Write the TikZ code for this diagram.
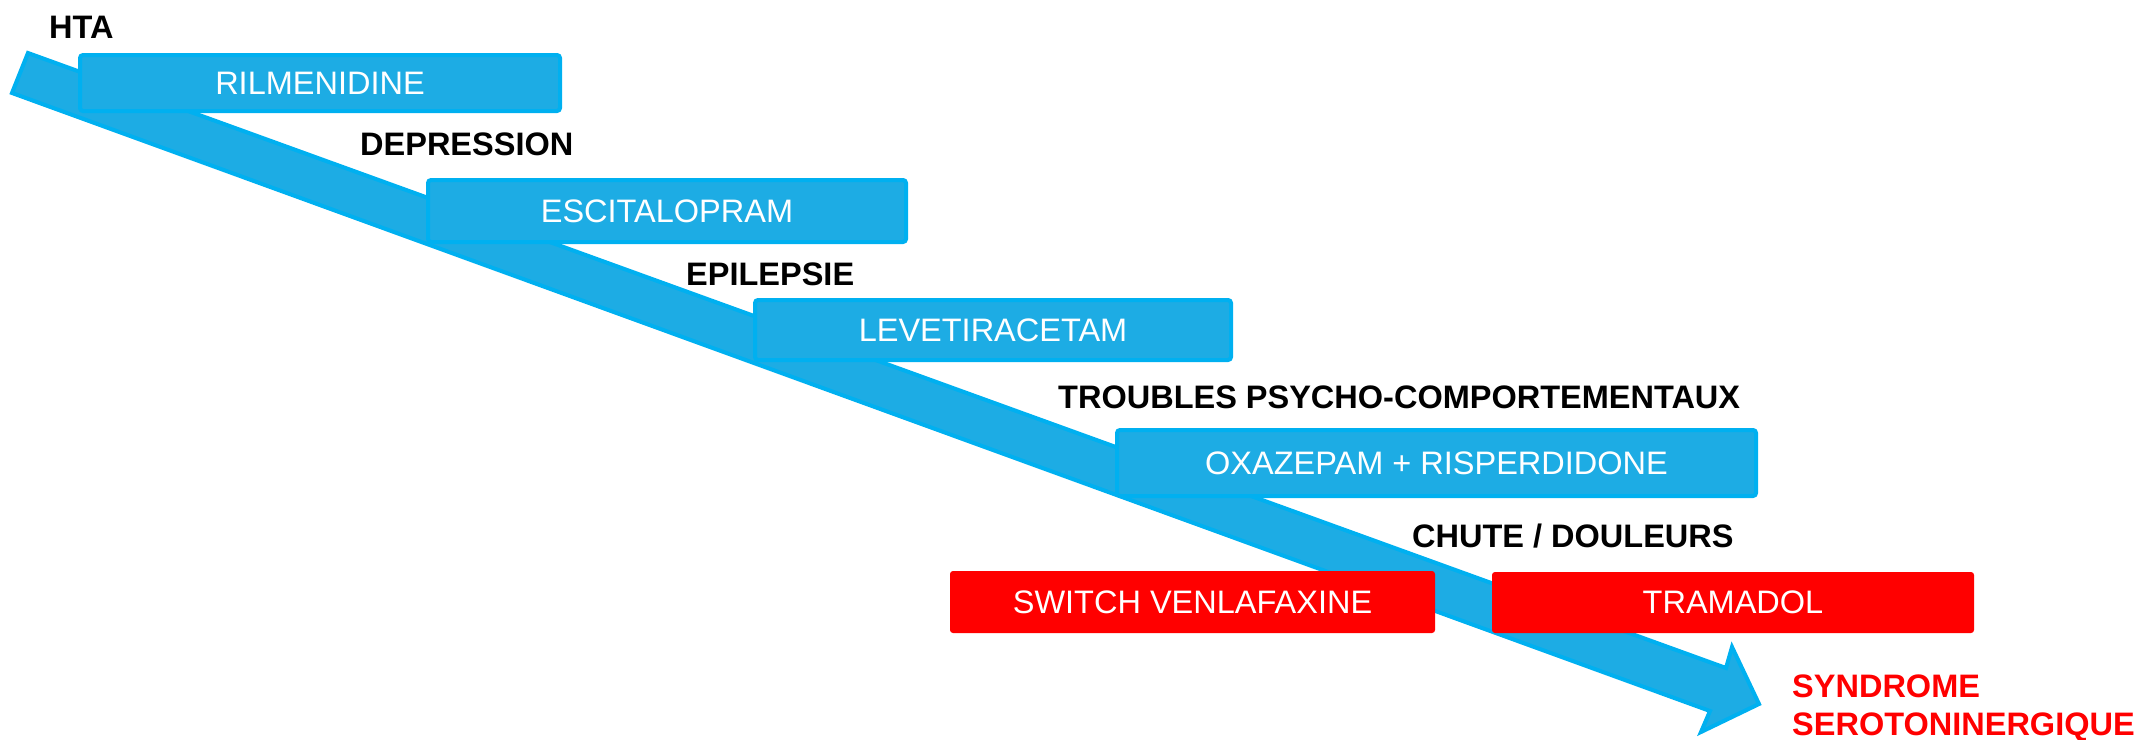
\documentclass[tikz,border=0pt]{standalone}
\usepackage{fontspec}
\setmainfont{Liberation Sans}
\definecolor{arrowfill}{RGB}{29,172,228}
\definecolor{arrowedge}{RGB}{0,176,240}
\definecolor{alertred}{RGB}{255,0,0}
\begin{document}
\begin{tikzpicture}[x=1pt,y=-1pt,
  every node/.style={font=\fontsize{32.5}{37}\selectfont},
  bluebox/.style={fill=arrowfill, draw=arrowedge, line width=4pt, rounded corners=3pt, text=white, inner sep=0pt},
  redbox/.style={fill=alertred, rounded corners=3pt, text=white, inner sep=0pt},
  stage/.style={font=\fontsize{32.5}{37}\selectfont\bfseries, anchor=base west, inner sep=0pt},
  outcome/.style={stage, text=alertred},
  bigarrow/.style={fill=arrowfill, draw=arrowedge, line width=4pt, line join=miter}
]
\useasboundingbox (0,0) rectangle (2139,739);

% big diagonal arrow
\coordinate (t1) at (28,53);
\coordinate (t2) at (12,93);
\coordinate (s1) at (1726,668);
\coordinate (s2) at (1710,711);
\coordinate (b1) at (1732,647);
\coordinate (b2) at (1701,732);
\coordinate (tip) at (1759,704);
\draw[bigarrow] (t1) -- (s1) -- (b1) -- (tip) -- (b2) -- (s2) -- (t2) -- cycle;

% blue treatment boxes
\node[bluebox, minimum width=480pt, minimum height=56pt] (ril) at (320,83) {RILMENIDINE};
\node[bluebox, minimum width=478pt, minimum height=62pt] (esc) at (667,211) {ESCITALOPRAM};
\node[bluebox, minimum width=476pt, minimum height=60pt] (lev) at (993,330) {LEVETIRACETAM};
\node[bluebox, minimum width=639pt, minimum height=66pt] (oxa) at (1436.5,463) {OXAZEPAM + RISPERDIDONE};

% red boxes
\node[redbox, minimum width=485pt, minimum height=62pt] (ven) at (1192.5,602) {SWITCH VENLAFAXINE};
\node[redbox, minimum width=482pt, minimum height=61pt] (tra) at (1733,602.5) {TRAMADOL};

% stage labels
\node[stage] (hta) at (49,38) {HTA};
\node[stage] (dep) at (360,155) {DEPRESSION};
\node[stage] (epi) at (686,285) {EPILEPSIE};
\node[stage] (tpc) at (1058,408) {TROUBLES PSYCHO-COMPORTEMENTAUX};
\node[stage] (chu) at (1412,547) {CHUTE / DOULEURS};

% outcome
\node[outcome] (syn1) at (1792,697) {SYNDROME};
\node[outcome] (syn2) at (1792,735) {SEROTONINERGIQUE};
\end{tikzpicture}
\end{document}
